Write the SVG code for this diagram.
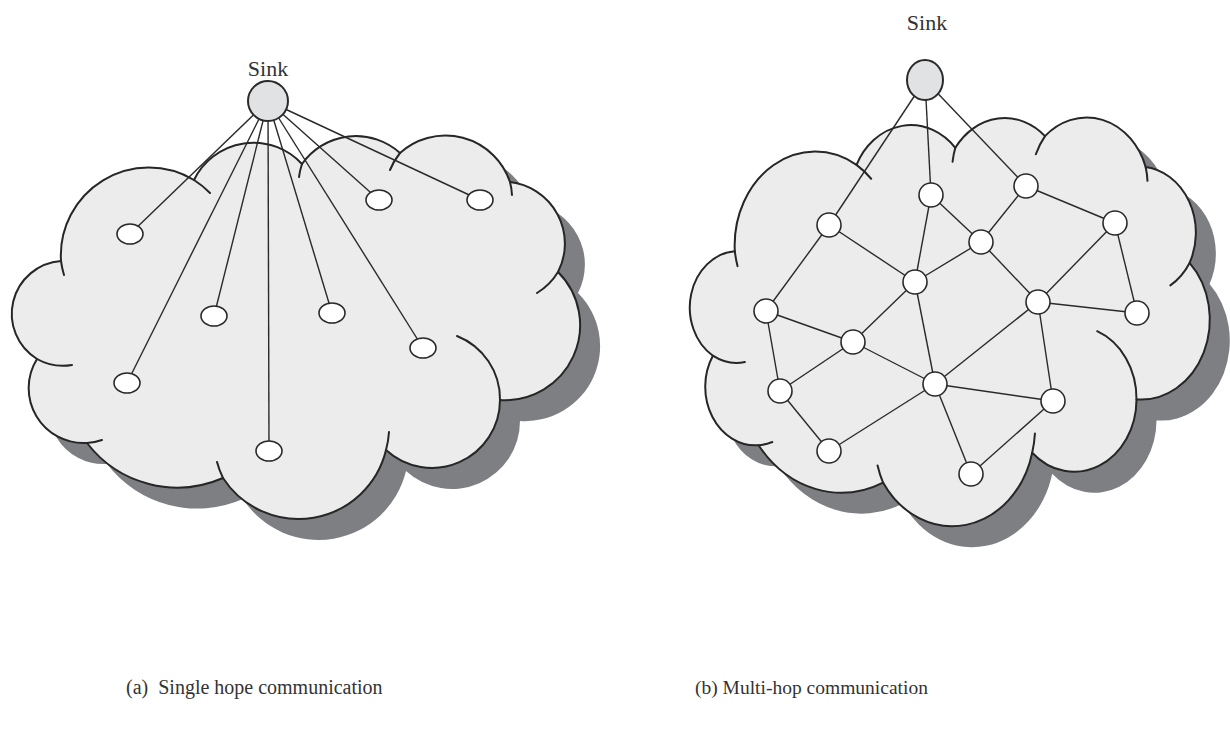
<svg xmlns="http://www.w3.org/2000/svg" xmlns:xlink="http://www.w3.org/1999/xlink" width="1230" height="731" viewBox="0 0 1230 731">
  <style>
    .shadow { fill: #7e7f83; stroke: none; }
    .cloud { fill: #ececec; stroke: none; }
    .outline path { fill: none; stroke: #262626; stroke-width: 2; vector-effect: non-scaling-stroke; stroke-linecap: round; }
    .link { stroke: #2a2a2a; stroke-width: 1.4; fill: none; }
    .node { fill: #ffffff; stroke: #2a2a2a; stroke-width: 1.6; }
    .sink { fill: #e1e2e4; stroke: #2a2a2a; stroke-width: 2; }
    .label { font-family: "Liberation Serif", "Times New Roman", serif; fill: #333333; }
  </style>
  <defs>
    <!-- cloud silhouette: bumps joined at their meeting points -->
    <path id="cloud-fill" d="M194,180 A66,66 0 0 1 302,164 A66,66 0 0 1 400,153 A68,68 0 0 1 510,182 A62,62 0 0 1 558,272 A75,75 0 0 1 500,400 A68,68 0 0 1 386,450 A90,90 0 0 1 223,478 A114,114 0 0 1 87,443 A55,55 0 0 1 37,359 A53,53 0 0 1 61,261 A88,88 0 0 1 194,180 Z"/>
    <!-- cloud outline: each bump drawn with its small inner tail -->
    <g id="cloud-outline" class="outline">
      <path d="M194,180 A66,66 0 0 1 302,164"/>
      <path d="M299,177 A66,66 0 0 1 302,164 A66,66 0 0 1 400,153"/>
      <path d="M390,170 A68,68 0 0 1 400,153 A68,68 0 0 1 510,182 A68,68 0 0 1 512,195"/>
      <path d="M510,182 A62,62 0 0 1 558,272 A62,62 0 0 1 537,293"/>
      <path d="M558,272 A75,75 0 0 1 500,400"/>
      <path d="M457,336 A68,68 0 0 1 500,400 A68,68 0 0 1 386,450"/>
      <path d="M389,432 A90,90 0 0 1 386,450 A90,90 0 0 1 223,478 A90,90 0 0 1 217,462"/>
      <path d="M223,478 A114,114 0 0 1 87,443"/>
      <path d="M102,440 A55,55 0 0 1 87,443 A55,55 0 0 1 37,359"/>
      <path d="M72,365 A53,53 0 0 1 37,359 A53,53 0 0 1 61,261"/>
      <path d="M64,275 A88,88 0 0 1 61,261 A88,88 0 0 1 194,180 A88,88 0 0 1 210,193"/>
    </g>
  </defs>

  <!-- (a) single hop -->
  <g id="cloud-a">
    <use xlink:href="#cloud-fill" href="#cloud-fill" class="shadow" transform="translate(20,21)"/>
    <use xlink:href="#cloud-fill" href="#cloud-fill" class="cloud"/>
    <use xlink:href="#cloud-outline" href="#cloud-outline"/>
  </g>
  <g id="links-a">
    <line class="link" x1="268" y1="101" x2="130" y2="234"/>
    <line class="link" x1="268" y1="101" x2="214" y2="316"/>
    <line class="link" x1="268" y1="101" x2="127" y2="383"/>
    <line class="link" x1="268" y1="101" x2="269" y2="451"/>
    <line class="link" x1="268" y1="101" x2="332" y2="313"/>
    <line class="link" x1="268" y1="101" x2="379" y2="200"/>
    <line class="link" x1="268" y1="101" x2="480" y2="200"/>
    <line class="link" x1="268" y1="101" x2="423" y2="348"/>
  </g>
  <g id="sink-a">
    <circle class="sink" cx="268" cy="101" r="20"/>
    <text class="label" x="268" y="76" font-size="22" text-anchor="middle">Sink</text>
  </g>
  <g id="node-a1"><ellipse class="node" cx="130" cy="234" rx="13" ry="10"/></g>
  <g id="node-a2"><ellipse class="node" cx="214" cy="316" rx="13" ry="10"/></g>
  <g id="node-a3"><ellipse class="node" cx="127" cy="383" rx="13" ry="10"/></g>
  <g id="node-a4"><ellipse class="node" cx="269" cy="451" rx="13" ry="10"/></g>
  <g id="node-a5"><ellipse class="node" cx="332" cy="313" rx="13" ry="10"/></g>
  <g id="node-a6"><ellipse class="node" cx="379" cy="200" rx="13" ry="10"/></g>
  <g id="node-a7"><ellipse class="node" cx="480" cy="200" rx="13" ry="10"/></g>
  <g id="node-a8"><ellipse class="node" cx="423" cy="348" rx="13" ry="10"/></g>

  <!-- (b) multi-hop: same cloud, narrower and taller -->
  <g id="cloud-b">
    <use xlink:href="#cloud-fill" href="#cloud-fill" class="shadow" transform="translate(20,21) matrix(0.915 0 0 1.066 679 -27)"/>
    <use xlink:href="#cloud-fill" href="#cloud-fill" class="cloud" transform="matrix(0.915 0 0 1.066 679 -27)"/>
    <use xlink:href="#cloud-outline" href="#cloud-outline" transform="matrix(0.915 0 0 1.066 679 -27)"/>
  </g>
  <g id="links-b">
    <line class="link" x1="925" y1="80" x2="829" y2="225"/>
    <line class="link" x1="925" y1="80" x2="931" y2="195"/>
    <line class="link" x1="925" y1="80" x2="1026" y2="186"/>
    <line class="link" x1="829" y1="225" x2="915" y2="282"/>
    <line class="link" x1="829" y1="225" x2="766" y2="311"/>
    <line class="link" x1="931" y1="195" x2="915" y2="282"/>
    <line class="link" x1="931" y1="195" x2="981" y2="242"/>
    <line class="link" x1="1026" y1="186" x2="981" y2="242"/>
    <line class="link" x1="1026" y1="186" x2="1115" y2="223"/>
    <line class="link" x1="981" y1="242" x2="915" y2="282"/>
    <line class="link" x1="981" y1="242" x2="1038" y2="302"/>
    <line class="link" x1="1115" y1="223" x2="1038" y2="302"/>
    <line class="link" x1="1115" y1="223" x2="1137" y2="313"/>
    <line class="link" x1="1038" y1="302" x2="1137" y2="313"/>
    <line class="link" x1="1038" y1="302" x2="935" y2="384"/>
    <line class="link" x1="1038" y1="302" x2="1053" y2="401"/>
    <line class="link" x1="915" y1="282" x2="853" y2="342"/>
    <line class="link" x1="915" y1="282" x2="935" y2="384"/>
    <line class="link" x1="766" y1="311" x2="853" y2="342"/>
    <line class="link" x1="766" y1="311" x2="780" y2="391"/>
    <line class="link" x1="853" y1="342" x2="780" y2="391"/>
    <line class="link" x1="853" y1="342" x2="935" y2="384"/>
    <line class="link" x1="780" y1="391" x2="829" y2="451"/>
    <line class="link" x1="829" y1="451" x2="935" y2="384"/>
    <line class="link" x1="935" y1="384" x2="1053" y2="401"/>
    <line class="link" x1="935" y1="384" x2="971" y2="474"/>
    <line class="link" x1="1053" y1="401" x2="971" y2="474"/>
  </g>
  <g id="sink-b">
    <ellipse class="sink" cx="925" cy="80" rx="18" ry="20"/>
    <text class="label" x="927" y="30" font-size="22" text-anchor="middle">Sink</text>
  </g>
  <g id="node-b1"><circle class="node" cx="829" cy="225" r="12"/></g>
  <g id="node-b2"><circle class="node" cx="931" cy="195" r="12"/></g>
  <g id="node-b3"><circle class="node" cx="1026" cy="186" r="12"/></g>
  <g id="node-b4"><circle class="node" cx="981" cy="242" r="12"/></g>
  <g id="node-b5"><circle class="node" cx="1115" cy="223" r="12"/></g>
  <g id="node-b6"><circle class="node" cx="915" cy="282" r="12"/></g>
  <g id="node-b7"><circle class="node" cx="766" cy="311" r="12"/></g>
  <g id="node-b8"><circle class="node" cx="1038" cy="302" r="12"/></g>
  <g id="node-b9"><circle class="node" cx="1137" cy="313" r="12"/></g>
  <g id="node-b10"><circle class="node" cx="853" cy="342" r="12"/></g>
  <g id="node-b11"><circle class="node" cx="780" cy="391" r="12"/></g>
  <g id="node-b12"><circle class="node" cx="935" cy="384" r="12"/></g>
  <g id="node-b13"><circle class="node" cx="1053" cy="401" r="12"/></g>
  <g id="node-b14"><circle class="node" cx="829" cy="451" r="12"/></g>
  <g id="node-b15"><circle class="node" cx="971" cy="474" r="12"/></g>

  <!-- captions -->
  <text class="label" x="126" y="694" font-size="20" style="white-space:pre">(a)  Single hope communication</text>
  <text class="label" x="695" y="694" font-size="19.5">(b) Multi-hop communication</text>
</svg>
